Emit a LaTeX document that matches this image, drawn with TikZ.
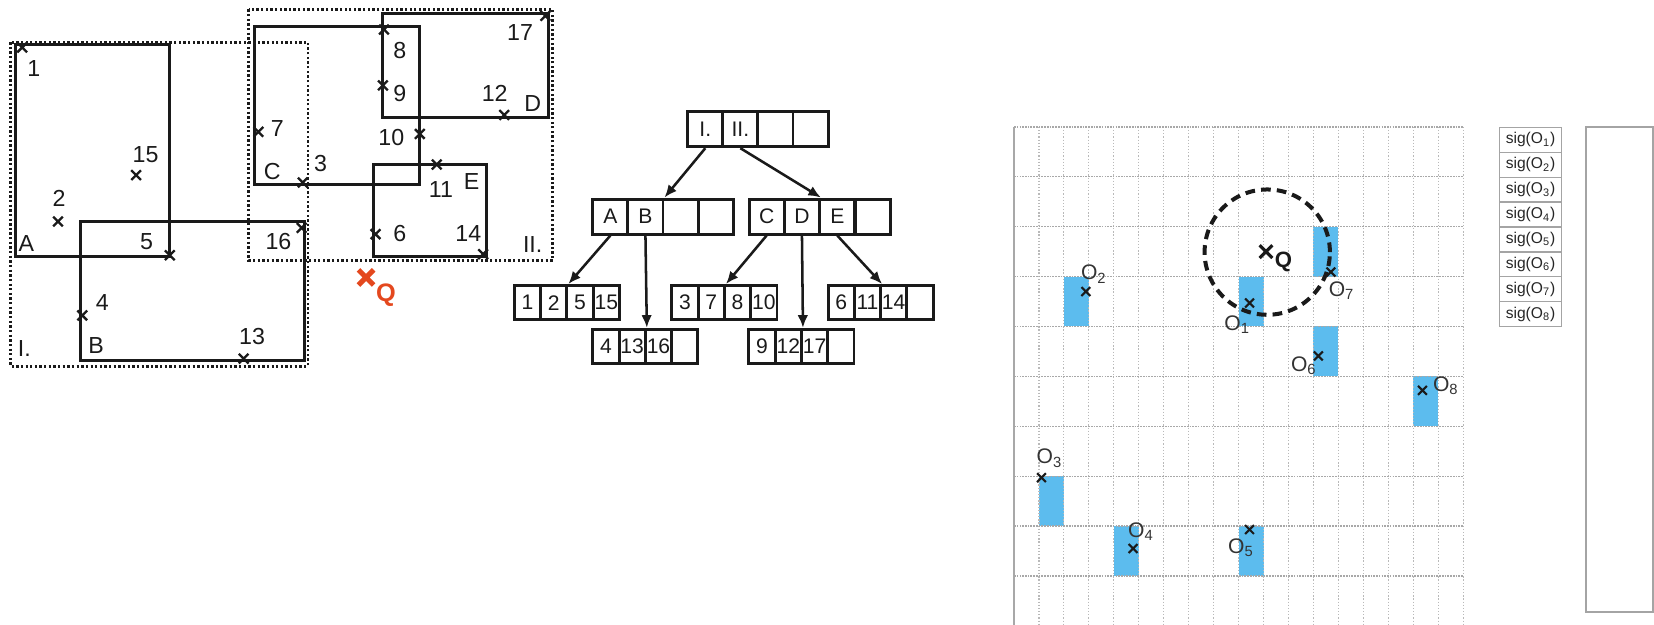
\documentclass[tikz,border=0pt]{standalone}
\usepackage{fontspec}
\setmainfont{Liberation Sans}
\usetikzlibrary{arrows.meta,positioning,shapes.misc}
\definecolor{objblue}{HTML}{5CBCEE}
\definecolor{qred}{HTML}{E4481E}
\definecolor{inkblack}{HTML}{1A1A1A}
\definecolor{gridgray}{HTML}{A8A8A8}
\definecolor{sigline}{HTML}{A4A4A4}

\begin{document}
\begin{tikzpicture}[
  x=0.5pt, y=-0.5pt,
  font=\fontsize{11}{13}\selectfont,
  mbr/.style    = {draw=inkblack, line width=1.4pt},
  region/.style = {draw=inkblack, line width=1.4pt, dash pattern=on 1.1pt off 1.1pt},
  pt/.style     = {cross out, draw=inkblack, line width=1.1pt, minimum size=3.5pt, inner sep=0pt},
  lbl/.style    = {inner sep=0pt, text=inkblack},
  qcross/.style = {cross out, draw=qred, line width=2.4pt, minimum size=4.8pt, inner sep=0pt},
  bigcell/.style   = {draw=inkblack, line width=1.4pt, minimum width=16.62pt, minimum height=16.6pt,
                      inner sep=0pt, text=inkblack, font=\fontsize{10}{12}\selectfont},
  smallcell/.style = {bigcell, minimum width=12.45pt, minimum height=16.3pt},
  link/.style   = {-{Latex[length=6pt,width=5pt]}, draw=inkblack, line width=1.2pt},
  vline/.style  = {draw=gridgray!80, line width=0.5pt, dash pattern=on 0.6pt off 0.9pt},
  hline/.style  = {draw=gridgray, line width=0.6pt, dash pattern=on 0.8pt off 0.5pt},
  omark/.style  = {cross out, draw=inkblack, line width=1pt, minimum size=3.2pt, inner sep=0pt},
  olbl/.style   = {inner sep=0pt, text=black!80, font=\fontsize{10}{12}\selectfont},
  qcircle/.style = {circle, draw=inkblack, line width=1.9pt, dash pattern=on 4.6pt off 2.9pt,
                    minimum size=59.4pt, inner sep=0pt},
  sigcell/.style = {draw=sigline, line width=0.6pt, minimum width=29.55pt, minimum height=11.81pt,
                    inner sep=0pt, text=black!85, font=\fontsize{7.4}{8}\selectfont},
]
\useasboundingbox (0,0) rectangle (1568,592);

% --- the plane: two regions, five MBRs, seventeen points -----------------------------------------
\draw[region] (10,40) rectangle (292,347);
\draw[region] (236,9) rectangle (524,247);

\draw[mbr] (15,42) rectangle (161,243);   % A
\draw[mbr] (76,210) rectangle (289,342);  % B
\draw[mbr] (241,25) rectangle (398,175);  % C
\draw[mbr] (363,13) rectangle (520,111);  % D
\draw[mbr] (354,156) rectangle (461,243); % E

\foreach \n/\px/\py in {1/21/45, 2/55/210, 3/287/173, 4/78/299, 5/161/242, 6/356/222,
                        7/245/125, 8/364/28, 9/363/81, 10/398/127, 11/414/156, 12/478/109,
                        13/231/340, 14/458/241, 15/129/166, 16/286/216, 17/517/15}
  \node[pt] (p\n) at (\px,\py) {};

\foreach \n/\lx/\ly in {1/32/65, 2/56/188, 3/304/155, 4/97/287, 5/139/229, 6/379/221,
                        7/263/122, 8/379/48, 9/379/89, 10/371/130, 11/418/180, 12/469/89,
                        13/239/319, 14/444/221, 15/138/147, 16/264/229, 17/493/31}
  \node[lbl] (p\n-lbl) at (\lx,\ly) {\n};

\node[lbl] (A-lbl) at (25,231) {A};
\node[lbl] (B-lbl) at (91,328) {B};
\node[lbl] (C-lbl) at (258,163) {C};
\node[lbl] (D-lbl) at (505,98) {D};
\node[lbl] (E-lbl) at (447,172) {E};
\node[lbl] (I-lbl) at (23,330) {I.};
\node[lbl] (II-lbl) at (505,232) {II.};

\node[qcross] (qleft) at (347,263) {};
\node[lbl, text=qred, font=\bfseries\fontsize{12}{14}\selectfont] (qleft-lbl) at (366,280) {Q};

% --- the tree -------------------------------------------------------------------------------------
\foreach \t [count=\k] in {I., II., {}, {}}
  \node[bigcell] (root\k) at (652+33.25*\k-16.62,122.5) {\t};
\foreach \t [count=\k] in {A, B, {}, {}}
  \node[bigcell] (ab\k) at (562+33.25*\k-16.62,205.3) {\t};
\foreach \t [count=\k] in {C, D, E, {}}
  \node[bigcell] (cde\k) at (710+33.5*\k-16.75,205.3) {\t};

\foreach \t [count=\k] in {1, 2, 5, 15}
  \node[smallcell] (la\k) at (487.6+24.9*\k-12.45,287) {\t};
\foreach \t [count=\k] in {4, 13, 16, {}}
  \node[smallcell] (lb\k) at (562+24.9*\k-12.45,328.5) {\t};
\foreach \t [count=\k] in {3, 7, 8, 10}
  \node[smallcell] (lc\k) at (637+24.9*\k-12.45,287) {\t};
\foreach \t [count=\k] in {9, 12, 17, {}}
  \node[smallcell] (ld\k) at (710+24.9*\k-12.45,328.5) {\t};
\foreach \t [count=\k] in {6, 11, 14, {}}
  \node[smallcell] (le\k) at (785+24.9*\k-12.45,287) {\t};

\draw[link] (root1.south) -- (ab2.north east);
\draw[link] (root2.south) -- (cde2.north east);
\draw[link] (ab1.south) -- (la2.north east);
\draw[link] (ab2.south) -- (lb2.north east);
\draw[link] (cde1.south) -- (lc2.north east);
\draw[link] (cde2.south) -- (ld2.north east);
\draw[link] (cde3.south) -- (le2.north east);

% --- the grid with the objects and the query range ------------------------------------------------
\begin{scope}[xshift=480.65pt, yshift=-60.15pt, x=11.825pt, y=-23.65pt]
  \foreach \c/\r in {9/3, 2/3, 1/7, 4/8, 9/8, 12/4, 12/2, 16/5}
    \fill[objblue] (\c,\r) rectangle ++(1,1);
  \foreach \i in {1,...,18}
    \draw[vline] (\i,0) -- (\i,10);
  \foreach \j in {0,...,10}
    \draw[hline] (0,\j) -- (18,\j);
  \draw[draw=gridgray, line width=0.6pt] (0,0) -- (0,10);

  \foreach \n/\ox/\oy/\lx/\ly in {1/9.44/3.53/8.95/3.97, 2/2.88/3.3/3.2/2.95, 3/1.1/7.03/1.42/6.64,
                                  4/4.77/8.45/5.09/8.11, 5/9.44/8.07/9.1/8.43, 6/12.2/4.59/11.62/4.78,
                                  7/12.7/2.91/13.13/3.29, 8/16.37/5.28/17.31/5.19}
  {
    \node[omark] (o\n) at (\ox,\oy) {};
    \node[olbl] (o\n-lbl) at (\lx,\ly) {O\textsubscript{\n}};
  }

  \node[cross out, draw=inkblack, line width=1.5pt, minimum size=4.5pt, inner sep=0pt] (q) at (10.1,2.5) {};
  \node[olbl, text=inkblack, font=\bfseries\fontsize{10.5}{12}\selectfont] (q-lbl) at (10.8,2.7) {Q};
  \node[qcircle] (qrange) at (10.15,2.51) {};
\end{scope}

% --- signatures and the empty buffer ---------------------------------------------------------------
\foreach \k in {1,...,8}
  \node[sigcell] (sig\k) at (1451,108.9+23.625*\k) {sig(O\textsubscript{\k})};

\node[draw=sigline, line width=0.8pt, minimum width=31.7pt, minimum height=229.6pt, inner sep=0pt]
  (buffer) at (1535.4,350.3) {};

\end{tikzpicture}
\end{document}
